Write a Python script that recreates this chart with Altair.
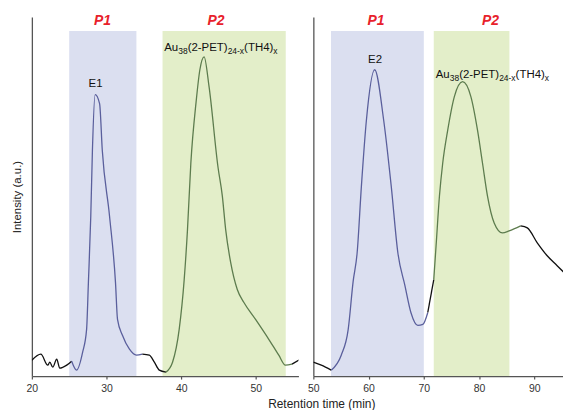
import altair as alt
import pandas as pd

# ---------------- data ----------------
# Left panel (first run)
left_t = [20.0, 21.2, 22.13, 22.4, 22.8, 23.33, 23.73, 24.67, 25.33, 26.0, 26.8, 27.33,
          27.57, 27.89, 28.11, 28.47, 29.07, 29.43, 30.4, 31.2, 31.47, 32.13, 33.07,
          34.0, 34.8, 35.73, 36.4, 37.07, 37.96, 38.84, 39.73, 40.4, 40.84, 41.29, 42.0,
          42.5, 43.07, 43.73, 44.93, 45.51, 45.96, 46.63, 47.51, 48.4, 49.96, 51.73,
          53.07, 53.96, 54.84, 55.96]
left_i = [16, 22, 11, 14, 9, 17, 8, 11, 15, 6, 24, 47,
          94, 161, 227, 283, 274, 227, 161, 94, 57, 41, 27,
          21, 22, 21, 14, 6, 4, 14, 47, 97, 147, 214, 276,
          308, 321, 291, 210, 181, 147, 114, 87, 74, 57, 37,
          21, 11, 12, 17]

# Right panel (second run)
right_t = [50.0, 51.44, 53.24, 55.05, 56.31, 57.2, 57.93, 58.7, 59.6, 61.1, 62.74, 64.1,
           65.3, 66.58, 67.66, 68.92, 69.82, 70.72, 71.8, 72.22, 72.83, 73.42, 74.32,
           75.53, 77.03, 78.52, 79.73, 80.63, 81.53, 82.74, 84.23, 85.44, 87.53, 88.74,
           90.54, 92.34, 94.14, 95.95]
right_i = [14, 11, 6, 21, 47, 95, 124, 191, 257, 308, 257, 191,
           124, 91, 64, 51, 52, 64, 97, 131, 181, 214, 247,
           281, 296, 281, 247, 214, 181, 154, 144, 146, 151, 149,
           134, 121, 111, 101]

# shaded fractions: (label, start, end)
left_bands = [("P1", 25.0, 34.0), ("P2", 37.5, 54.0)]
right_bands = [("P1", 53.2, 70.0), ("P2", 71.8, 85.5)]

# labels
left_plabels_t = [29.47, 44.67]
right_plabels_t = [61.35, 82.07]
plabel_text = ["P1", "P2"]
peak_names = ["E1", "E2"]
peak_name_t = [28.53, 61.17]
peak_name_i = [294, 318]
formula_start_t = [37.73, 72.16]
formula_base_i = [327, 300]
formula_parts = ["Au", "38", "(2-PET)", "24-x", "(TH4)", "x"]
formula_is_sub = [False, True, False, True, False, True]

# ---------------- styling ----------------
FONT = "Liberation Sans"
BAND_COLORS = {"P1": "#dbdff0", "P2": "#e3eec9"}
LINE_COLORS = {"none": "#111111", "P1": "#5a5f9c", "P2": "#5d7c4e"}
W_L, W_R, H = 268, 251, 361
BAND_TOP = 347
PLABEL_I = 357
MAIN_SIZE, SUB_SIZE = 11.5, 8.5

# Arial/Liberation Sans advance widths (per 1000 em)
CW = {"A": 667, "u": 556, "3": 556, "8": 556, "(": 333, "2": 556, "-": 333, "P": 667,
      "E": 667, "T": 611, ")": 333, "4": 556, "x": 500, "H": 722}


def text_width(s, size):
    return sum(CW.get(c, 556) for c in s) * size / 1000.0


def segments(ts, vals, bands):
    def region(t):
        for name, a, b in bands:
            if a <= t <= b:
                return name
        return "none"
    rows = []
    seg = 0
    prev = None
    for t, v in zip(ts, vals):
        r = region(t)
        if prev is not None and r != prev:
            rows.append({"t": t, "I": v, "col": LINE_COLORS[prev], "seg": seg})
            seg += 1
        rows.append({"t": t, "I": v, "col": LINE_COLORS[r], "seg": seg})
        prev = r
    return pd.DataFrame(rows)


def panel(ts, vals, bands, domain, width, plabels_t, k, show_title):
    xscale = alt.Scale(domain=domain, nice=False, zero=False)
    yscale = alt.Scale(domain=[0, H], nice=False, zero=True)
    ticks = list(range(int(domain[0]), int(domain[1]) + 1, 5))
    xaxis_kw = dict(values=ticks, labelExpr="datum.value % 10 == 0 ? datum.label : ''",
                    grid=False, domainColor="#555555", domainWidth=1.3, tickColor="#555555",
                    tickSize=3, tickWidth=1.2, labelColor="#333333", labelFont=FONT,
                    labelFontSize=10.5, labelPadding=4, labelFlush=False)
    if show_title:
        xaxis_kw.update(title="Retention time (min)", titleX=291, titleY=32,
                        titleAlign="center", titleBaseline="alphabetic", titleFont=FONT,
                        titleFontSize=12, titleFontWeight="normal", titleColor="#222222")
        yaxis = alt.Axis(title="Intensity (a.u.)", labels=False, ticks=False, grid=False,
                         domainColor="#555555", domainWidth=1.3, titleFont=FONT,
                         titleFontSize=11.5, titleFontWeight="normal", titleColor="#222222",
                         titlePadding=9)
    else:
        xaxis_kw.update(title=None)
        yaxis = alt.Axis(title=None, labels=False, ticks=False, grid=False,
                         domainColor="#555555", domainWidth=1.3)
    xaxis = alt.Axis(**xaxis_kw)

    band_df = pd.DataFrame(bands, columns=["name", "start", "end"])
    band_df["fill"] = band_df["name"].map(BAND_COLORS)
    rect = alt.Chart(band_df).mark_rect().encode(
        x=alt.X("start:Q", scale=xscale, axis=xaxis),
        x2="end:Q",
        y=alt.Y("top:Q", scale=yscale, axis=yaxis),
        y2=alt.datum(0),
        fill=alt.Fill("fill:N", scale=None),
    ).transform_calculate(top=str(BAND_TOP))

    line_df = segments(ts, vals, bands)
    line = alt.Chart(line_df).mark_line(strokeWidth=1.3, clip=True,
                                        interpolate="monotone").encode(
        x=alt.X("t:Q", scale=xscale),
        y=alt.Y("I:Q", scale=yscale),
        detail="seg:N",
        stroke=alt.Stroke("col:N", scale=None),
        order="t:Q",
    )

    layers = [rect, line]
    # P1 / P2 labels
    pl_df = pd.DataFrame({"t": plabels_t, "label": plabel_text})
    layers.append(alt.Chart(pl_df).mark_text(font=FONT, fontSize=14, fontWeight="bold",
                                              fontStyle="italic", color="#e8212b",
                                              baseline="middle").encode(
        x="t:Q", y=alt.datum(PLABEL_I), text="label:N"))
    # peak name
    layers.append(alt.Chart().mark_text(font=FONT, fontSize=11.5, color="#111111",
                                         baseline="middle").encode(
        x=alt.datum(peak_name_t[k]), y=alt.datum(peak_name_i[k]),
        text=alt.value(peak_names[k])))
    # formula with subscripts
    dx = 0.0
    for part, sub in zip(formula_parts, formula_is_sub):
        size = SUB_SIZE if sub else MAIN_SIZE
        layers.append(alt.Chart().mark_text(font=FONT, fontSize=size, color="#111111",
                                             align="left", baseline="alphabetic",
                                             dx=dx, dy=3.5 if sub else 0).encode(
            x=alt.datum(formula_start_t[k]), y=alt.datum(formula_base_i[k]),
            text=alt.value(part)))
        dx += text_width(part, size)

    return alt.layer(*layers).properties(width=width, height=H)


left = panel(left_t, left_i, left_bands, [20, 55.7], W_L, left_plabels_t, 0, True)
right = panel(right_t, right_i, right_bands, [50, 95.2], W_R, right_plabels_t, 1, False)

chart = alt.hconcat(left, right, spacing=15, bounds="flush").properties(
    padding={"left": 4, "top": 5, "right": 0, "bottom": 0}
).configure_view(stroke=None)

chart.save("out.html", embed_options={"renderer": "svg", "actions": False})
